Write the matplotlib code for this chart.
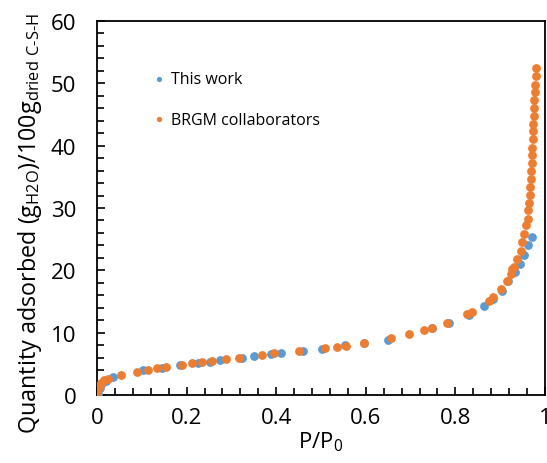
import matplotlib
matplotlib.use("Agg")
import matplotlib.pyplot as plt
from matplotlib.ticker import MultipleLocator

plt.rcParams['font.family'] = ['Open Sans', 'DejaVu Sans']
plt.rcParams['mathtext.fontset'] = 'custom'
plt.rcParams['mathtext.rm'] = 'Open Sans'

# "This work" data
this_x = [0.002, 0.006, 0.012, 0.020, 0.036, 0.103, 0.144, 0.185, 0.226, 0.252, 0.274,
          0.324, 0.350, 0.389, 0.410, 0.460, 0.502, 0.554, 0.595, 0.650, 0.747, 0.785,
          0.831, 0.864, 0.883, 0.905, 0.918, 0.933, 0.944, 0.953, 0.962, 0.970]
this_y = [0.2, 1.2, 1.9, 2.3, 2.83, 4.01, 4.33, 4.81, 5.08, 5.35, 5.56,
          5.94, 6.20, 6.52, 6.68, 7.00, 7.38, 7.97, 8.34, 8.88, 10.75, 11.50,
          12.83, 14.33, 15.4, 16.7, 18.34, 19.7, 21.0, 22.5, 24.0, 25.4]

# "BRGM collaborators" data
brgm_x = [0.000, 0.003, 0.006, 0.010, 0.016, 0.025, 0.053, 0.090, 0.114, 0.134, 0.155,
          0.189, 0.211, 0.235, 0.257, 0.287, 0.317, 0.368, 0.394, 0.451, 0.510, 0.535,
          0.555, 0.595, 0.656, 0.697, 0.731, 0.748, 0.782, 0.827, 0.837, 0.875, 0.883,
          0.901, 0.916, 0.924, 0.927, 0.931, 0.938, 0.946, 0.949, 0.953, 0.957, 0.961,
          0.963, 0.964, 0.966, 0.967, 0.968, 0.969, 0.970, 0.971, 0.972, 0.973, 0.973,
          0.974, 0.975, 0.975, 0.976, 0.977, 0.978, 0.979, 0.979]
brgm_y = [0.5, 1.0, 1.6, 2.0, 2.4, 2.6, 3.21, 3.74, 4.06, 4.33, 4.55,
          4.87, 5.13, 5.29, 5.51, 5.78, 5.94, 6.42, 6.68, 7.06, 7.49, 7.76,
          7.92, 8.29, 9.09, 9.73, 10.43, 10.75, 11.60, 12.95, 13.37, 15.13, 15.67,
          17.0, 18.34, 19.41, 20.2, 20.6, 21.8, 23.15, 24.5, 25.8, 27.2, 28.3,
          29.6, 30.8, 32.1, 33.4, 34.7, 36.0, 37.2, 38.5, 39.7, 41.0, 42.3,
          43.5, 44.8, 46.0, 47.3, 48.6, 49.8, 51.1, 52.5]

fig = plt.figure(figsize=(5.47, 4.64), dpi=100)
ax = fig.add_axes([97/547, 68/464, 448/547, 374/464])

ax.scatter(this_x, this_y, s=40, color='#5B9BD5', linewidths=0, label='This work', zorder=3)
ax.scatter(brgm_x, brgm_y, s=40, color='#ED7D31', linewidths=0, label='BRGM collaborators', zorder=4)

ax.set_xlim(0, 1)
ax.set_ylim(0, 60)
ax.xaxis.set_minor_locator(MultipleLocator(0.04))
ax.yaxis.set_major_locator(MultipleLocator(10))
ax.yaxis.set_minor_locator(MultipleLocator(2))
ax.set_xticks([0, 0.2, 0.4, 0.6, 0.8, 1.0])
ax.set_xticklabels(['0', '0.2', '0.4', '0.6', '0.8', '1'])

ax.tick_params(which='both', direction='in', width=1.2, colors='black')
ax.tick_params(which='major', length=5.5)
ax.tick_params(which='minor', length=5)
ax.tick_params(axis='y', which='major', pad=15, labelsize=16)
ax.tick_params(axis='x', which='major', pad=9, labelsize=16)
for sp in ax.spines.values():
    sp.set_linewidth(1.3)

ax.set_xlabel(r'P/P$_{\mathregular{0}}$', fontsize=16, labelpad=1)
ax.set_ylabel('Quantity adsorbed (g$_{\\mathregular{H2O}}$)/100g$_{\\mathregular{dried\\ C\u2011S\u2011H}}$',
              fontsize=16.8)
ax.yaxis.set_label_coords(-0.118, 0.462)

leg = ax.legend(loc='upper left', bbox_to_anchor=(0.11, 0.888), frameon=False,
                fontsize=11.5, handlelength=0.6, handletextpad=0.45, labelspacing=1.55,
                borderpad=0, markerscale=0.6)

fig.savefig('out.png', dpi=100)
